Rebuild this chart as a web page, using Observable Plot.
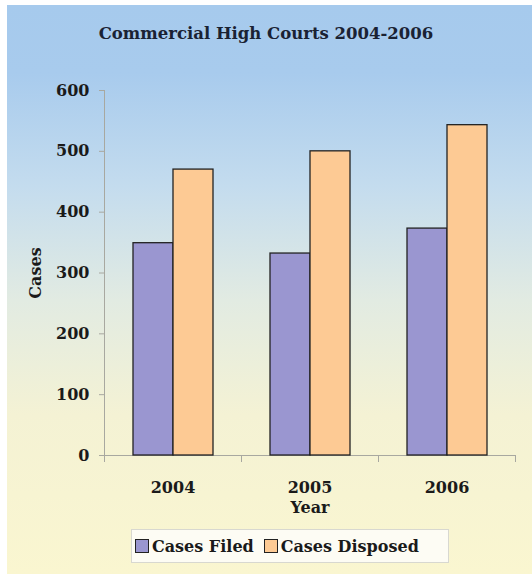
<!DOCTYPE html>
<html>
<head>
<meta charset="utf-8">
<script src="https://cdn.jsdelivr.net/npm/d3@7"></script>
<script src="https://cdn.jsdelivr.net/npm/@observablehq/plot@0.6"></script>
<style>
  html, body { margin: 0; padding: 0; background: #ffffff; }
  #panel {
    position: absolute; left: 7px; top: 5px; width: 525px; height: 569px;
    background: linear-gradient(to bottom, #a6caed 0%, #a8cbed 12%, #c4dcee 32%, #e2ebe2 52%, #f4f2d4 72%, #faf6d0 100%);
    font-family: "DejaVu Serif", serif;
  }
  #title {
    position: absolute; left: 0; width: 532px; top: 19px; text-align: center;
    font-weight: bold; font-size: 16.5px; color: #1a2233; margin-left: -7px;
  }
  #chart { position: absolute; left: -7px; top: 55px; }
  #chart svg path, #chart svg line { stroke: #a8a8a0 !important; }
  #legend {
    position: absolute; left: 124px; top: 524px; width: 318px; height: 34px;
    background: #fdfcf4; border: 1px solid #d8d8d0; box-sizing: border-box;
    display: flex; align-items: center; padding-left: 3px;
    font-weight: bold; font-size: 16px; color: #1a1a1a; white-space: nowrap;
  }
  .sw { display: inline-block; width: 12px; height: 12px; border: 1px solid #222; margin-right: 3px; }
  .item { display: flex; align-items: center; margin-right: 10px; }
</style>
</head>
<body>
<div id="panel">
  <div id="title">Commercial High Courts 2004-2006</div>
  <div id="chart"></div>
  <div id="legend"></div>
</div>
<script>
const years = ["2004", "2005", "2006"];
const seriesNames = ["Cases Filed", "Cases Disposed"];
const casesFiled = [349, 332, 373];
const casesDisposed = [470, 500, 543];
const colors = ["#9a96d0", "#fdca94"];
const yTicks = [0, 100, 200, 300, 400, 500, 600];

const data = [];
years.forEach((y, i) => {
  data.push({year: y, series: seriesNames[0], value: casesFiled[i]});
  data.push({year: y, series: seriesNames[1], value: casesDisposed[i]});
});

const chart = Plot.plot({
  width: 532,
  height: 470,
  marginLeft: 104,
  marginRight: 17,
  marginTop: 30,
  marginBottom: 75,
  style: {background: "transparent", fontFamily: "DejaVu Serif, serif", fontSize: "16px", fontWeight: "bold", color: "#1a1a1a"},
  fx: {domain: years, padding: 0, axis: "bottom", tickSize: 0, tickPadding: 26, label: "Year", labelAnchor: "center", labelOffset: 57, labelArrow: "none"},
  x: {domain: seriesNames, axis: null, paddingInner: 0, paddingOuter: 0.71},
  y: {domain: [0, 600], ticks: yTicks, tickFormat: d => d, tickSize: 5, tickPadding: 10, line: true, label: "Cases", labelAnchor: "center", labelOffset: 75, labelArrow: "none", grid: false},
  color: {domain: seriesNames, range: colors},
  marks: [
    Plot.ruleY([0], {stroke: "#b0b0a8"}),
    Plot.frame({anchor: "left", stroke: "#b0b0a8", insetTop: 365, insetBottom: -6}),
    Plot.frame({anchor: "right", stroke: "#b0b0a8", insetTop: 365, insetBottom: -6}),
    Plot.barY(data, {fx: "year", x: "series", y: "value", fill: "series", stroke: "#222", strokeWidth: 1.3})
  ]
});
document.getElementById("chart").appendChild(chart);

const legend = document.getElementById("legend");
seriesNames.forEach((s, i) => {
  const it = document.createElement("span");
  it.className = "item";
  const sw = document.createElement("span");
  sw.className = "sw";
  sw.style.background = colors[i];
  it.appendChild(sw);
  it.appendChild(document.createTextNode(s));
  legend.appendChild(it);
});
</script>
</body>
</html>
